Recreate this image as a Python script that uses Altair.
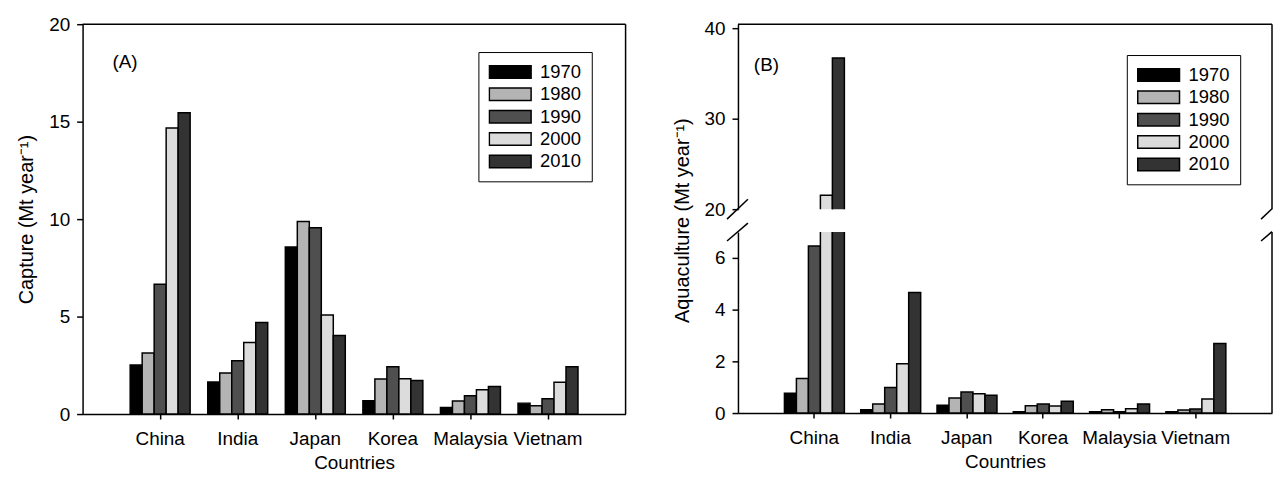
import altair as alt
import pandas as pd

countries = ["China", "India", "Japan", "Korea", "Malaysia", "Vietnam"]
years = ["1970", "1980", "1990", "2000", "2010"]
year_colors = ["#000000", "#b4b4b4", "#4f4f4f", "#dcdcdc", "#333333"]

# Panel A: capture (Mt per year)
capture_1970 = [2.51, 1.65, 8.57, 0.68, 0.33, 0.56]
capture_1980 = [3.13, 2.10, 9.88, 1.80, 0.67, 0.43]
capture_1990 = [6.66, 2.74, 9.56, 2.43, 0.94, 0.78]
capture_2000 = [14.68, 3.67, 5.08, 1.81, 1.25, 1.63]
capture_2010 = [15.46, 4.70, 4.03, 1.72, 1.41, 2.43]

# Panel B: aquaculture (Mt per year)
aqua_1970 = [0.77, 0.13, 0.30, 0.05, 0.05, 0.05]
aqua_1980 = [1.34, 0.35, 0.58, 0.28, 0.13, 0.12]
aqua_1990 = [6.46, 0.99, 0.81, 0.35, 0.05, 0.16]
aqua_2000 = [21.55, 1.91, 0.75, 0.27, 0.17, 0.54]
aqua_2010 = [36.70, 4.66, 0.69, 0.46, 0.35, 2.69]

capture_ticks = [0, 5, 10, 15, 20]
aqua_low_ticks = [0, 2, 4, 6]
aqua_high_ticks = [20, 30, 40]

FONT = "Liberation Sans"
SYMBOL = "M-1,-0.3H1V0.3H-1Z"


def long_df(series):
    rows = []
    for yr, vals in zip(years, series):
        for c, v in zip(countries, vals):
            rows.append({"country": c, "year": yr, "value": v})
    return pd.DataFrame(rows)


cap_df = long_df([capture_1970, capture_1980, capture_1990, capture_2000, capture_2010])
aq_df = long_df([aqua_1970, aqua_1980, aqua_1990, aqua_2000, aqua_2010])
deco = pd.DataFrame({"k": [0]})


def make_legend(lx, ly):
    return alt.Legend(
        orient="none", legendX=lx, legendY=ly, title=None,
        symbolType=SYMBOL, symbolSize=1764, symbolStrokeColor="black",
        symbolStrokeWidth=1.5, symbolOpacity=1, clipHeight=20, rowPadding=2.5,
        labelFontSize=18.5, labelFont=FONT, labelColor="black", labelOffset=8,
        padding=10, strokeColor="black", fillColor="white",
    )


def xaxis():
    return alt.Axis(
        title="Countries", labelAngle=0, tickSize=5, labelPadding=11,
        labelFontSize=19, titleFontSize=19, titlePadding=5,
    )


def yaxis(values, title=None, title_y=None):
    kw = dict(
        values=values, tickSize=6, labelPadding=7, labelFontSize=19,
        minExtent=40, maxExtent=40, titlePadding=6, titleFontSize=20,
        grid=False,
    )
    kw["title"] = title
    if title_y is not None:
        kw["titleY"] = title_y
    return alt.Axis(**kw)


def bars(df, pin, pout, ydom, yax, xax, legend):
    return alt.Chart(df).mark_bar(stroke="black", strokeWidth=1.5, clip=True).encode(
        x=alt.X("country:N", sort=countries,
                scale=alt.Scale(paddingInner=pin, paddingOuter=pout), axis=xax),
        xOffset=alt.XOffset("year:N", sort=years,
                            scale=alt.Scale(paddingInner=0, paddingOuter=0)),
        y=alt.Y("value:Q", scale=alt.Scale(domain=ydom, nice=False, zero=False), axis=yax),
        color=alt.Color("year:N", sort=years,
                        scale=alt.Scale(domain=years, range=year_colors), legend=legend),
    )


def rule(x, x2, y, y2):
    return alt.Chart(deco).mark_rule(stroke="black", strokeWidth=1.5).encode(
        x=alt.value(x), x2=alt.value(x2), y=alt.value(y), y2=alt.value(y2)
    )


def label(txt, x, y):
    return alt.Chart(pd.DataFrame({"t": [txt]})).mark_text(
        align="left", baseline="middle", fontSize=19, font=FONT, color="black"
    ).encode(text="t:N", x=alt.value(x), y=alt.value(y))


# Panel A
WA, HA = 546, 392
A = alt.layer(
    bars(cap_df, 0.227, 0.6135, [0, 20],
         yaxis(capture_ticks, "Capture (Mt year\u207b\u00b9)"), xaxis(),
         make_legend(398, 28)),
    rule(0, WA, 0, 0),
    rule(WA, WA, 0, HA),
    label("(A)", 30, 38),
).properties(width=WA, height=HA)

# Panel B (broken axis)
WB, HU, HL = 537, 186, 182
Bu = alt.layer(
    bars(aq_df, 0.218, 0.609, [20, 40.44], yaxis(aqua_high_ticks), None,
         make_legend(391, 31)),
    rule(0, WB, 0, 0),
    rule(WB, WB, 0, HU),
    rule(-11, 10, HU + 10, HU - 10),
    rule(WB - 11, WB, HU + 10, HU - 0.5),
    label("(B)", 16, 41),
).properties(width=WB, height=HU)

Bl = alt.layer(
    bars(aq_df, 0.218, 0.609, [0, 7],
         yaxis(aqua_low_ticks, "Aquaculture (Mt year\u207b\u00b9)", -12), xaxis(), None),
    rule(WB, WB, 0, HL),
    rule(-11, 10, 9, -9),
    rule(WB - 11, WB, 9, -0.4),
).properties(width=WB, height=HL)

B = alt.vconcat(Bu, Bl, spacing=23, bounds="flush").resolve_scale(color="independent")

chart = (
    alt.hconcat(A, B, spacing=113, bounds="flush")
    .resolve_scale(color="independent")
    .properties(padding={"left": 9, "top": 6, "right": 0, "bottom": 0},
                background="white")
    .configure_view(stroke=None)
    .configure_axis(
        domainColor="black", tickColor="black", labelColor="black",
        titleColor="black", domainWidth=1.5, tickWidth=1.5,
        labelFont=FONT, titleFont=FONT, titleFontWeight="normal",
    )
)

chart.save("out.html", embed_options={"renderer": "svg", "actions": False})
